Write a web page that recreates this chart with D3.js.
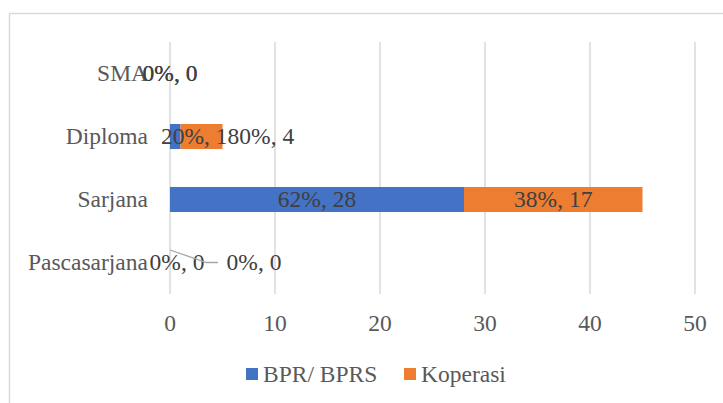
<!DOCTYPE html>
<html>
<head>
<meta charset="utf-8">
<script src="https://cdn.jsdelivr.net/npm/d3@7/dist/d3.min.js"></script>
<style>
  html, body { margin: 0; padding: 0; background: #fff; }
  svg { display: block; }
</style>
</head>
<body>
<svg id="chart" width="723" height="403" font-family="'Liberation Serif', 'Times New Roman', Times, serif"></svg>
<script>
// Education level of respondents, stacked by institution type
const categories = ["SMA", "Diploma", "Sarjana", "Pascasarjana"];
const seriesNames = ["BPR/ BPRS", "Koperasi"];
const bprValues = [0, 1, 28, 0];
const koperasiValues = [0, 4, 17, 0];
const xTicks = [0, 10, 20, 30, 40, 50];
const seriesColors = ["#4472c4", "#ed7d31"];

const W = 723, H = 403;
const svg = d3.select("#chart");
const fontSize = 23.5;
const axisColor = "#595959";
const labelColor = "#404040";
const gridColor = "#d9d9d9";

// chart area frame
svg.append("path")
  .attr("d", `M9.5,${H + 2} V13.5 H${W + 2}`)
  .attr("fill", "none")
  .attr("stroke", gridColor)
  .attr("stroke-width", 1.5);

const plot = { left: 170, right: 695, top: 42, bottom: 294 };

const x = d3.scaleLinear().domain([0, 50]).range([plot.left, plot.right]);
const y = d3.scaleBand().domain(categories).range([plot.top, plot.bottom]).paddingInner(0.603).paddingOuter(0.3015);

// vertical gridlines
svg.append("g").selectAll("line").data(xTicks).join("line")
  .attr("x1", d => x(d)).attr("x2", d => x(d))
  .attr("y1", plot.top).attr("y2", plot.bottom)
  .attr("stroke", gridColor).attr("stroke-width", 1.5);

// x tick labels
svg.append("g").selectAll("text").data(xTicks).join("text")
  .attr("x", d => x(d)).attr("y", 331)
  .attr("text-anchor", "middle")
  .attr("font-size", fontSize).attr("fill", axisColor)
  .text(d => d);

// category labels
svg.append("g").selectAll("text").data(categories).join("text")
  .attr("x", plot.left - 22)
  .attr("y", d => y(d) + y.bandwidth() / 2 + 7.8)
  .attr("text-anchor", "end")
  .attr("font-size", fontSize).attr("fill", axisColor)
  .text(d => d);

// stacked rows
const rows = categories.map((c, i) => ({ cat: c, "BPR/ BPRS": bprValues[i], "Koperasi": koperasiValues[i] }));
const stack = d3.stack().keys(seriesNames)(rows);

const bars = svg.append("g");
stack.forEach((layer, si) => {
  bars.selectAll(null).data(layer).join("rect")
    .attr("x", d => x(d[0]))
    .attr("y", d => y(d.data.cat))
    .attr("width", d => x(d[1]) - x(d[0]))
    .attr("height", y.bandwidth())
    .attr("fill", seriesColors[si]);
});

// data labels: "share%, value"
function pctLabel(row, key) {
  const total = row["BPR/ BPRS"] + row["Koperasi"];
  const pct = total ? Math.round(row[key] / total * 100) : 0;
  return `${pct}%, ${row[key]}`;
}

const labels = svg.append("g")
  .attr("font-size", fontSize).attr("fill", labelColor);

rows.forEach(row => {
  const cy = y(row.cat) + y.bandwidth() / 2 + 7.8;
  const segs = stack.map(layer => layer.find(d => d.data.cat === row.cat));
  if (row.cat === "Sarjana" || row.cat === "SMA") {
    // centred inside each segment
    segs.forEach((d, si) => {
      labels.append("text")
        .attr("x", (x(d[0]) + x(d[1])) / 2).attr("y", cy)
        .attr("text-anchor", "middle")
        .text(pctLabel(row, seriesNames[si]));
    });
  } else if (row.cat === "Diploma") {
    // narrow segments: labels laid side by side from the axis
    let cx = x(0) - 9;
    seriesNames.forEach(key => {
      const t = labels.append("text")
        .attr("x", cx).attr("y", cy)
        .attr("text-anchor", "start")
        .text(pctLabel(row, key));
      cx += t.node().getComputedTextLength();
    });
  } else {
    // zero-width segments: second label moved out with a leader line
    const c0 = y(row.cat) + y.bandwidth() / 2;
    labels.append("text")
      .attr("x", x(0) + 7).attr("y", cy)
      .attr("text-anchor", "middle")
      .text(pctLabel(row, seriesNames[0]));
    svg.append("polyline")
      .attr("points", `${x(0)},${c0 - 12.5} ${x(0) + 36.5},${c0} ${x(0) + 48},${c0}`)
      .attr("fill", "none").attr("stroke", "#a6a6a6").attr("stroke-width", 1.3);
    labels.append("text")
      .attr("x", x(0) + 84).attr("y", cy)
      .attr("text-anchor", "middle")
      .text(pctLabel(row, seriesNames[1]));
  }
});

// legend
const legend = svg.append("g");
const legendItems = [
  { name: seriesNames[0], color: seriesColors[0], x: 246 },
  { name: seriesNames[1], color: seriesColors[1], x: 404 }
];
legendItems.forEach(item => {
  legend.append("rect")
    .attr("x", item.x).attr("y", 368).attr("width", 12).attr("height", 12)
    .attr("fill", item.color);
  legend.append("text")
    .attr("x", item.x + 17).attr("y", 381.5)
    .attr("font-size", fontSize).attr("fill", axisColor)
    .text(item.name);
});
</script>
</body>
</html>
